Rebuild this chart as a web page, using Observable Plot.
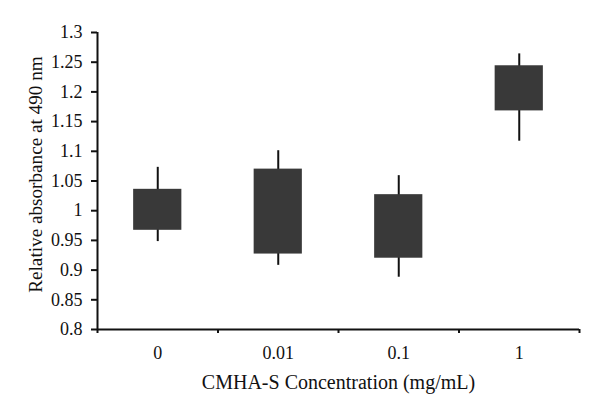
<!DOCTYPE html>
<html><head><meta charset="utf-8">
<script src="https://cdn.jsdelivr.net/npm/d3@7"></script>
<script src="https://cdn.jsdelivr.net/npm/@observablehq/plot@0.6"></script>
<style>body{margin:0;background:#fff}</style>
</head><body><div id="chart"></div>
<script>
const categories = ["0", "0.01", "0.1", "1"];
const boxLow = [0.967, 0.927, 0.920, 1.168];
const boxHigh = [1.036, 1.070, 1.027, 1.244];
const whiskerLow = [0.948, 0.908, 0.888, 1.117];
const whiskerHigh = [1.073, 1.101, 1.059, 1.264];
const yTicks = [0.8, 0.85, 0.9, 0.95, 1, 1.05, 1.1, 1.15, 1.2, 1.25, 1.3];
const xTitle = "CMHA-S Concentration (mg/mL)";
const yTitle = "Relative absorbance at 490 nm";

const rows = categories.map((c, i) => ({
  c, i, lo: boxLow[i], hi: boxHigh[i], wlo: whiskerLow[i], whi: whiskerHigh[i]
}));
const boundaries = d3.range(categories.length + 1);
const centers = categories.map((c, i) => i + 0.5);
const font = "'Liberation Serif', 'DejaVu Serif', serif";

const chart = Plot.plot({
  width: 600,
  height: 413,
  marginLeft: 97,
  marginRight: 21,
  marginTop: 32,
  marginBottom: 84,
  style: {fontFamily: font, fontSize: "18px", color: "#111", background: "#fff"},
  x: {type: "linear", domain: [0, categories.length]},
  y: {domain: [0.8, 1.3]},
  marks: [
    Plot.ruleX(rows, {x: d => d.i + 0.5, y1: "wlo", y2: "whi", stroke: "#111", strokeWidth: 2}),
    Plot.rectY(rows, {x1: d => d.i + 0.3, x2: d => d.i + 0.7, y1: "lo", y2: "hi", fill: "#393939"}),
    Plot.axisY({ticks: yTicks, tickSize: 6, tickPadding: 9, tickFormat: d => String(d), stroke: "#111", strokeWidth: 2, fontSize: 18, label: null}),
    Plot.axisX({ticks: boundaries, tickSize: 4, tickFormat: () => "", stroke: "#111", strokeWidth: 2, label: null}),
    Plot.axisX({ticks: centers, tickSize: 0, tickPadding: 17, fontSize: 18, tickFormat: d => categories[Math.floor(d)], label: null}),
    Plot.ruleX([0], {stroke: "#111", strokeWidth: 2}),
    Plot.ruleY([0.8], {stroke: "#111", strokeWidth: 2}),
    Plot.text([xTitle], {frameAnchor: "bottom", dy: 53, textAnchor: "middle", lineAnchor: "middle", fontSize: 20, fill: "#111"}),
    Plot.text([yTitle], {frameAnchor: "left", dx: -62, dy: -6.5, rotate: -90, textAnchor: "middle", lineAnchor: "middle", fontSize: 19.2, fill: "#111"})
  ]
});
document.getElementById("chart").appendChild(chart);
</script>
</body></html>
